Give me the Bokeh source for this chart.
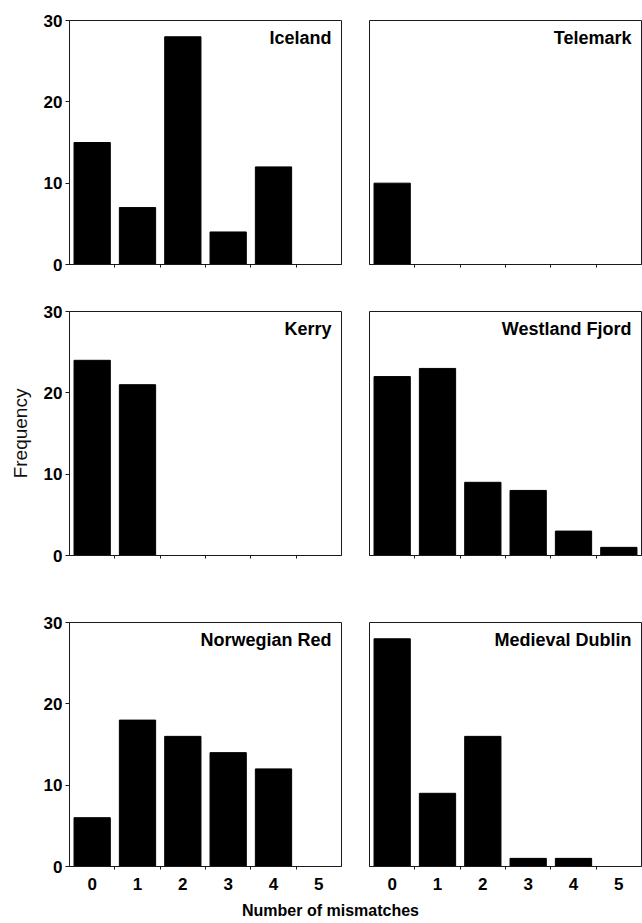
from bokeh.plotting import figure
from bokeh.models import Range1d, FixedTicker, Label
from bokeh.layouts import column, row
from bokeh.embed import file_html
from bokeh.resources import INLINE

# ---- data ----
mismatches = [0, 1, 2, 3, 4, 5]
tick_labels = ["0", "1", "2", "3", "4", "5"]
freq_ticks = [0, 10, 20, 30]
panel_names = ["Iceland", "Telemark", "Kerry", "Westland Fjord", "Norwegian Red", "Medieval Dublin"]
iceland = [15, 7, 28, 4, 12, 0]
telemark = [10, 0, 0, 0, 0, 0]
kerry = [24, 21, 0, 0, 0, 0]
westland_fjord = [22, 23, 9, 8, 3, 1]
norwegian_red = [6, 18, 16, 14, 12, 0]
medieval_dublin = [28, 9, 16, 1, 1, 0]
y_label = "Frequency"
x_label = "Number of mismatches"

FONT = "Liberation Sans"
LINE = "#1a1a1a"
FRAME_W = 272
FRAME_H = 244


def panel(name, counts, left, bottom_labels, ylab, bt, bb):
    bl, br = (69, 14) if left else (14, 1)
    p = figure(width=bl + FRAME_W + br, height=bt + FRAME_H + bb,
               x_range=Range1d(-0.5, 5.5), y_range=Range1d(0, 30),
               output_backend="svg", toolbar_location=None,
               min_border_left=bl, min_border_right=br,
               min_border_top=bt, min_border_bottom=bb)
    p.vbar(x=mismatches, top=counts, width=0.8, fill_color="black", line_color="black")
    p.xgrid.visible = False
    p.ygrid.visible = False
    p.outline_line_color = LINE
    p.outline_line_width = 1
    p.background_fill_color = "white"
    p.border_fill_color = "white"

    xa = p.xaxis[0]
    boundaries = [m + 0.5 for m in mismatches[:-1]]
    if bottom_labels:
        xa.ticker = FixedTicker(ticks=mismatches, minor_ticks=boundaries)
        xa.major_label_overrides = {m: t for m, t in zip(mismatches, tick_labels)}
    else:
        xa.ticker = FixedTicker(ticks=[], minor_ticks=boundaries)
    xa.major_tick_out = 0
    xa.major_tick_in = 0
    xa.minor_tick_out = 3
    xa.minor_tick_in = 0
    xa.minor_tick_line_color = LINE
    xa.axis_line_color = LINE
    xa.major_label_standoff = 8
    xa.major_label_text_font = FONT
    xa.major_label_text_font_style = "bold"
    xa.major_label_text_font_size = "17px"
    xa.major_label_text_color = "black"

    ya = p.yaxis[0]
    if left:
        ya.ticker = FixedTicker(ticks=freq_ticks, minor_ticks=[])
        ya.major_tick_out = 4
        ya.major_tick_in = 0
        ya.major_tick_line_color = LINE
        ya.axis_line_color = LINE
        ya.major_label_standoff = 3
        ya.major_label_text_font = FONT
        ya.major_label_text_font_style = "bold"
        ya.major_label_text_font_size = "17px"
        ya.major_label_text_color = "black"
        if ylab:
            ya.axis_label = ylab
            ya.axis_label_text_font = FONT
            ya.axis_label_text_font_style = "normal"
            ya.axis_label_text_font_size = "19px"
            ya.axis_label_text_color = "#111111"
            ya.axis_label_standoff = 10
    else:
        ya.visible = False

    p.add_layout(Label(x=5.5, y=30, x_offset=-10, y_offset=-7, text=name,
                       text_align="right", text_baseline="top",
                       text_font=FONT, text_font_style="bold",
                       text_font_size="18px", text_color="black"))
    return p


p1 = panel(panel_names[0], iceland, True, False, None, 20, 26)
p2 = panel(panel_names[1], telemark, False, False, None, 20, 26)
p3 = panel(panel_names[2], kerry, True, False, y_label, 21, 45)
p4 = panel(panel_names[3], westland_fjord, False, False, None, 21, 45)
p5 = panel(panel_names[4], norwegian_red, True, True, None, 22, 30)
p6 = panel(panel_names[5], medieval_dublin, False, True, None, 22, 30)

TOTAL_W = (69 + FRAME_W + 14) + (14 + FRAME_W + 1)
XL_H = 27
xl = figure(width=TOTAL_W, height=XL_H, x_range=Range1d(0, TOTAL_W), y_range=Range1d(0, XL_H),
            output_backend="svg", toolbar_location=None,
            x_axis_type=None, y_axis_type=None,
            min_border_left=0, min_border_right=0, min_border_top=0, min_border_bottom=0)
xl.xgrid.visible = False
xl.ygrid.visible = False
xl.outline_line_color = None
xl.add_layout(Label(x=330, y=13, text=x_label, text_align="center",
                    text_baseline="middle", text_font=FONT,
                    text_font_style="bold", text_font_size="16px", text_color="black"))

layout = column(row(p1, p2), row(p3, p4), row(p5, p6), xl)

open("out.html", "w").write(file_html(layout, INLINE))
